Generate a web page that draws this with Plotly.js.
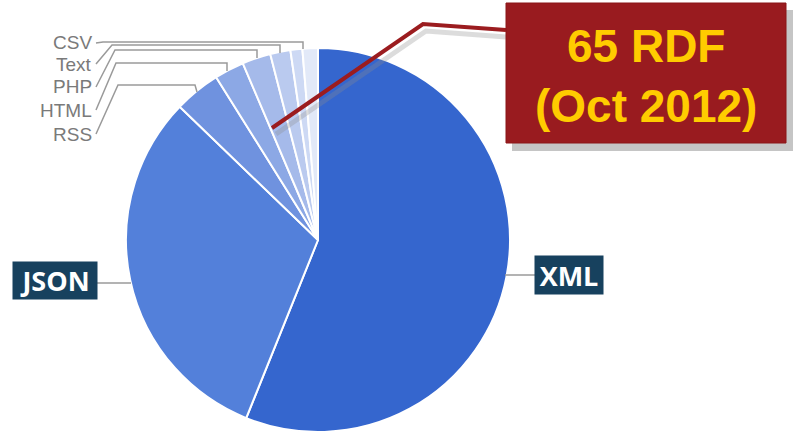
<!DOCTYPE html>
<html>
<head>
<meta charset="utf-8">
<script src="https://cdn.plot.ly/plotly-3.0.1.min.js"></script>
<style>html,body{margin:0;padding:0;background:#fff}#chart{width:796px;height:434px}</style>
</head>
<body>
<div id="chart"></div>
<script>
// Data (share of web API formats)
const formats = ["XML", "JSON", "RSS", "HTML", "PHP", "Text", "CSV", "Other"];
const shares  = [56.1, 31.1, 3.9, 2.5, 2.4, 1.7, 1.0, 1.3];
const sliceColors = ["#3566CE", "#5380DA", "#6F92DF", "#8CA8E5", "#A5BAEA", "#BACAEF", "#CDD9F4", "#E2E9F8"];
const smallLabels = ["CSV", "Text", "PHP", "HTML", "RSS"];
const calloutText = "65 RDF<br>(Oct 2012)";

const W = 796, H = 434;
const px = x => x / W;
const py = y => 1 - y / H;
const cx = 318, cy = 240, R = 192;

const trace = {
  type: "pie",
  labels: formats,
  values: shares,
  sort: false,
  direction: "clockwise",
  rotation: 0,
  textinfo: "none",
  hoverinfo: "label+percent",
  marker: { colors: sliceColors, line: { color: "#ffffff", width: 2 } },
  domain: { x: [px(cx - R), px(cx + R)], y: [py(cy + R), py(cy - R)] },
  showlegend: false
};

function path(pts) {
  return pts.map((p, i) => (i ? "L" : "M") + px(p[0]) + "," + py(p[1])).join(" ");
}

const shapes = [];
// small-label leader lines
const leaders = [
  [[96, 43], [103, 42], [303, 42], [303, 49]],
  [[96, 64], [112, 45], [280, 45], [280, 53]],
  [[96, 87], [115, 50], [257, 50], [257, 58]],
  [[96, 110], [116, 63], [227, 63], [227, 71]],
  [[96, 134], [118, 85], [195, 85], [197, 92]]
];
leaders.forEach(l => shapes.push({ type: "path", xref: "paper", yref: "paper", path: path(l), line: { color: "#9a9a9a", width: 1.5 } }));
// JSON / XML leaders
shapes.push({ type: "line", xref: "paper", yref: "paper", x0: px(97), y0: py(283), x1: px(131), y1: py(283), line: { color: "#9a9a9a", width: 1.5 } });
shapes.push({ type: "line", xref: "paper", yref: "paper", x0: px(505), y0: py(275), x1: px(535), y1: py(275), line: { color: "#9a9a9a", width: 1.5 } });
// callout line shadow + line
shapes.push({ type: "path", xref: "paper", yref: "paper", path: path([[276, 134], [426, 31], [506, 37]]), line: { color: "rgba(140,140,140,0.3)", width: 5 } });
shapes.push({ type: "path", xref: "paper", yref: "paper", path: path([[272, 128], [423, 24], [506, 30]]), line: { color: "#9B1C1F", width: 4 } });
// callout box shadow + box
shapes.push({ type: "rect", xref: "paper", yref: "paper", x0: px(512), y0: py(10), x1: px(793), y1: py(151), fillcolor: "rgba(110,110,110,0.4)", line: { width: 0 } });
shapes.push({ type: "rect", xref: "paper", yref: "paper", x0: px(506), y0: py(3), x1: px(786), y1: py(143), fillcolor: "#991B1F", line: { color: "#8a1619", width: 1 } });

const annotations = [];
const smallY = [43, 64, 87, 110, 134];
smallLabels.forEach((t, i) => annotations.push({
  text: t, xref: "paper", yref: "paper", x: px(94), y: py(smallY[i]), xanchor: "right", yanchor: "middle",
  showarrow: false, font: { family: "Liberation Sans, Arial, sans-serif", size: 19, color: "#7a7a7a" }
}));
annotations.push({
  text: "<b>JSON</b>", xref: "paper", yref: "paper", x: px(55), y: py(280.5), xanchor: "center", yanchor: "middle",
  showarrow: false, bgcolor: "#17415E", width: 84, height: 37, borderpad: 0,
  font: { family: "Open Sans, sans-serif", size: 27, color: "#ffffff" }
});
annotations.push({
  text: "<b>XML</b>", xref: "paper", yref: "paper", x: px(569), y: py(275), xanchor: "center", yanchor: "middle",
  showarrow: false, bgcolor: "#17415E", width: 68, height: 38, borderpad: 0,
  font: { family: "Open Sans, sans-serif", size: 27, color: "#ffffff" }
});
annotations.push({
  text: "<b>" + calloutText + "</b>", xref: "paper", yref: "paper", x: px(646), y: py(76), xanchor: "center", yanchor: "middle",
  showarrow: false, font: { family: "Liberation Sans, Arial, sans-serif", size: 46, color: "#FFCC00" }
});

Plotly.newPlot("chart", [trace], {
  width: W, height: H,
  margin: { l: 0, r: 0, t: 0, b: 0 },
  paper_bgcolor: "#ffffff",
  shapes: shapes,
  annotations: annotations
}, { displayModeBar: false, staticPlot: true });
</script>
</body>
</html>
